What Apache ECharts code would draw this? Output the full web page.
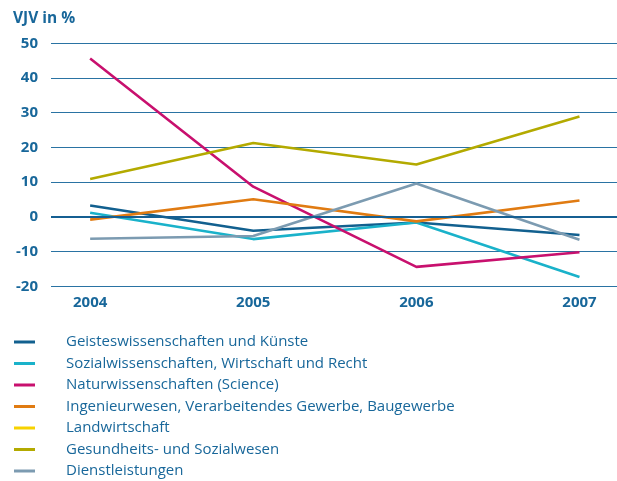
<!DOCTYPE html>
<html><head><meta charset="utf-8">
<script src="https://cdn.jsdelivr.net/npm/echarts@6/dist/echarts.min.js"></script>
<style>html,body{margin:0;padding:0;background:#fff}#c{width:617px;height:481px}</style>
</head><body><div id="c"></div>
<script>
const years = [2004, 2005, 2006, 2007];
const seriesNames = [
  'Geisteswissenschaften und Künste',
  'Sozialwissenschaften, Wirtschaft und Recht',
  'Naturwissenschaften (Science)',
  'Ingenieurwesen, Verarbeitendes Gewerbe, Baugewerbe',
  'Landwirtschaft',
  'Gesundheits- und Sozialwesen',
  'Dienstleistungen'
];
const geistes = [3.3, -4.0, -1.6, -5.2];
const sozial = [1.2, -6.4, -1.6, -17.3];
const natur = [45.6, 8.7, -14.4, -10.2];
const ingenieur = [-0.8, 5.1, -1.3, 4.7];
const landwirtschaft = [null, null, null, null];
const gesundheit = [10.9, 21.3, 15.1, 28.9];
const dienst = [-6.3, -5.5, 9.6, -6.6];
const yTicks = [-20, -10, 0, 10, 20, 30, 40, 50];
const colors = ['#12608f', '#1ab2ca', '#c8106e', '#e07b12', '#f7d200', '#b3aa00', '#7c9bb1'];
const allData = [geistes, sozial, natur, ingenieur, landwirtschaft, gesundheit, dienst];

const textColor = '#18679a';
const chart = echarts.init(document.getElementById('c'), null, {renderer: 'canvas'});
chart.setOption({
  animation: false,
  title: {
    text: 'VJV in %', left: 13, top: 11, padding: 0,
    textStyle: {color: textColor, fontFamily: 'Open Sans', fontWeight: 'bold', fontSize: 15.5}
  },
  grid: {left: 51, right: 0, top: 43.3, bottom: 194.7},
  xAxis: {
    type: 'value', min: 2003.76, max: 2007.23,
    axisLine: {show: false}, axisTick: {show: false}, splitLine: {show: false},
    axisLabel: {
      customValues: years, margin: 9,
      color: textColor, fontFamily: 'Open Sans', fontWeight: 'bold', fontSize: 15,
      formatter: v => String(v)
    }
  },
  yAxis: {
    type: 'value', min: yTicks[0], max: yTicks[yTicks.length - 1], interval: 10,
    axisLine: {show: false}, axisTick: {show: false},
    axisLabel: {margin: 13, color: textColor, fontFamily: 'Open Sans', fontWeight: 'bold', fontSize: 15},
    splitLine: {lineStyle: {color: '#2a73a3', width: 1.2}}
  },
  legend: {
    orient: 'vertical', left: 14, top: 334, itemGap: 5.5, padding: 0, height: 200,
    icon: 'rect', itemWidth: 21, itemHeight: 3,
    data: seriesNames,
    textStyle: {color: textColor, fontFamily: 'Open Sans', fontSize: 15, lineHeight: 16, padding: [0, 0, 0, 26]}
  },
  series: seriesNames.map((n, i) => ({
    name: n, type: 'line', symbol: 'none', color: colors[i],
    lineStyle: {width: 2.6, color: colors[i]},
    data: years.map((y, j) => [y, allData[i][j]]),
    markLine: i === 0 ? {
      silent: true, symbol: 'none', label: {show: false},
      lineStyle: {color: '#155f92', width: 2, type: 'solid'},
      data: [{yAxis: 0}]
    } : undefined
  }))
});
</script></body></html>
